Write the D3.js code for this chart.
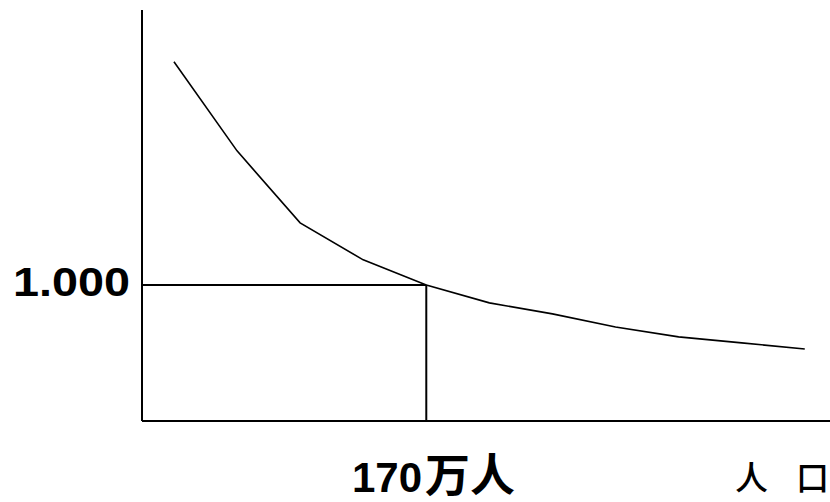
<!DOCTYPE html>
<html>
<head>
<meta charset="utf-8">
<script src="https://cdn.jsdelivr.net/npm/d3@7"></script>
<style>
  body { margin: 0; background: #fff; }
  text { font-family: "Liberation Sans", Arial, "Noto Sans CJK SC", sans-serif; fill: #000; }
</style>
</head>
<body>
<div id="chart"></div>
<script>
let w = 830
let h = 502

// population (万人) and cost ratio
let population = [50, 80, 110, 140, 170, 200, 230, 260, 290, 320, 350]
let ratio = [2.64, 1.985, 1.456, 1.184, 1.0, 0.868, 0.787, 0.691, 0.618, 0.574, 0.529]
let markPop = 170
let markRatio = 1.0
let yLabel = "1.000"
let xMarkNum = "170"
let xMarkUnit = "万人"
let xTitle = ["人", "口"]

let svg = d3.select("#chart")
  .append("svg")
  .attr("width", w)
  .attr("height", h)

let xMin = 34.8, xMax = 362
let yMax = 3.02

let x = d3.scaleLinear()
  .domain([xMin, xMax])
  .range([142, 830])

let y = d3.scaleLinear()
  .domain([0, yMax])
  .range([421, 10])

// axes
svg.append("line")
  .attr("x1", x(xMin)).attr("x2", x(xMin))
  .attr("y1", y(0)).attr("y2", y(yMax))
  .attr("stroke", "#000").attr("stroke-width", 2)

svg.append("line")
  .attr("x1", x(xMin)).attr("x2", x(xMax))
  .attr("y1", y(0)).attr("y2", y(0))
  .attr("stroke", "#000").attr("stroke-width", 2)

// reference lines at 170万人 / 1.000
svg.append("line")
  .attr("x1", x(xMin)).attr("x2", x(markPop))
  .attr("y1", y(markRatio)).attr("y2", y(markRatio))
  .attr("stroke", "#000").attr("stroke-width", 2)

svg.append("line")
  .attr("x1", x(markPop)).attr("x2", x(markPop))
  .attr("y1", y(markRatio)).attr("y2", y(0))
  .attr("stroke", "#000").attr("stroke-width", 2)

// curve
let line = d3.line()
  .x((d, i) => x(population[i]))
  .y(d => y(d))

svg.append("path")
  .datum(ratio)
  .attr("fill", "none")
  .attr("stroke", "#000")
  .attr("stroke-width", 1.6)
  .attr("d", line)

// labels
svg.append("text")
  .attr("transform", "translate(13,296) scale(1.14,1)")
  .attr("font-size", 41).attr("font-weight", "bold")
  .text(yLabel)

let mark = svg.append("text")
  .attr("x", 352).attr("y", 492)
  .attr("font-weight", "bold")

mark.append("tspan")
  .attr("font-size", 42)
  .text(xMarkNum)

mark.append("tspan")
  .attr("font-size", 45)
  .style("font-family", "'Noto Sans CJK SC', sans-serif")
  .attr("dx", 3)
  .text(xMarkUnit)

svg.selectAll("text.title")
  .data(xTitle)
  .join("text")
  .attr("class", "title")
  .attr("x", (d, i) => 735 + i * 61)
  .attr("y", 490)
  .attr("font-size", 33)
  .style("font-family", "'Noto Sans CJK SC', sans-serif")
  .style("font-weight", 500)
  .text(d => d)
</script>
</body>
</html>
